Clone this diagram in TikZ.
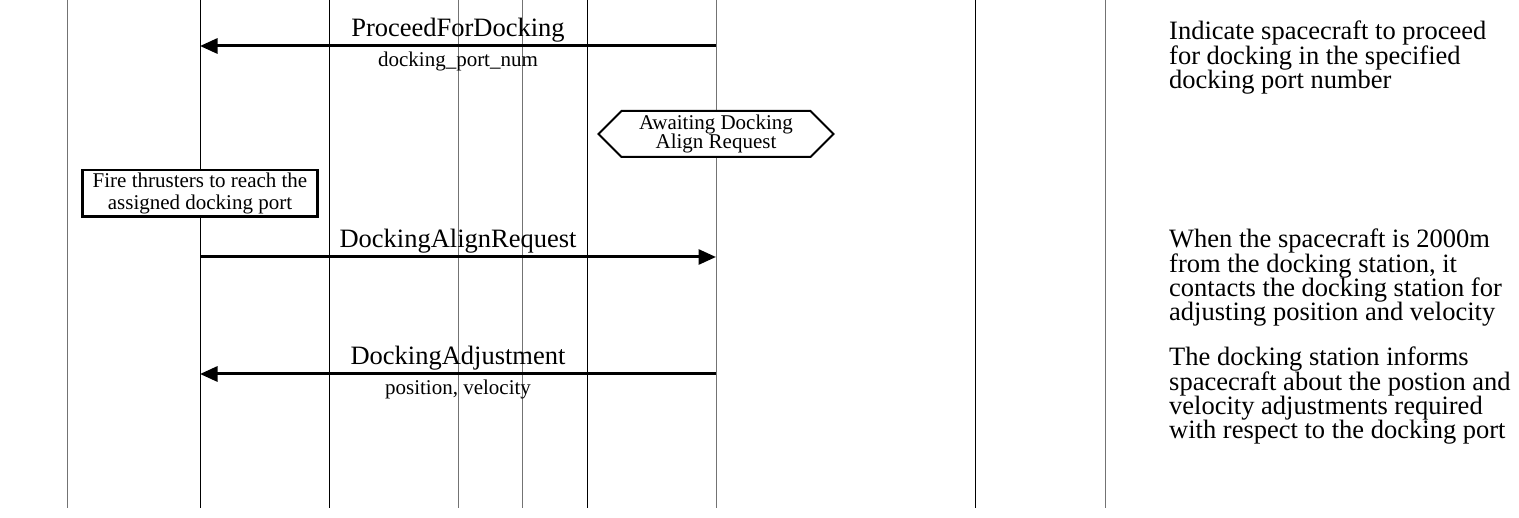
\documentclass[tikz,border=0pt]{standalone}
\usepackage{fontspec}
\setmainfont{Liberation Serif}
\usetikzlibrary{arrows.meta,shapes.symbols}

% tight line spacing: never fall back to \lineskip
\newcommand{\tightlines}{\lineskiplimit=-100pt\relax}

\tikzset{
  lifeline/.style={line width=1pt, black},
  faintline/.style={line width=1pt, black!55},
  msg/.style={line width=3pt, -{Triangle[length=17.5pt,width=15pt]}},
  biglabel/.style={font=\fontsize{26.5}{28}\selectfont, inner sep=0pt, anchor=base},
  smalllabel/.style={font=\fontsize{21}{22}\selectfont, inner sep=0pt, anchor=base},
  note/.style={font=\fontsize{26.5}{24.2}\selectfont\tightlines, inner sep=0pt,
    align=left, anchor=north west},
  actionbox/.style={draw, line width=2.4pt, fill=white, align=center,
    font=\fontsize{21}{21.6}\selectfont\tightlines, inner sep=0pt,
    minimum width=235pt, minimum height=46.5pt},
  statehex/.style={draw, line width=2pt, fill=white, align=center, signal,
    signal to=west and east, signal pointer angle=90,
    font=\fontsize{21}{18.8}\selectfont\tightlines, minimum width=235pt,
    minimum height=46pt, inner sep=0pt}
}

\begin{document}
\begin{tikzpicture}[x=1pt,y=-1pt]
\useasboundingbox (0,0) rectangle (1519,518);

% lifelines
\foreach \n/\x/\s in {a/67/faintline, b/200/lifeline, c/329/lifeline, d/458/faintline,
                      e/522/faintline, f/587/lifeline, g/716/faintline, h/975/lifeline,
                      i/1105/faintline} {
  \coordinate (\n top) at (\x,0);
  \coordinate (\n bot) at (\x,508);
  \draw[\s] (\n top) -- (\n bot);
}

% message end points
\coordinate (m1s) at (716,46);
\coordinate (m1e) at (200,46);
\coordinate (m2s) at (200,257);
\coordinate (m2e) at (716,257);
\coordinate (m3s) at (716,374);
\coordinate (m3e) at (200,374);

% ProceedForDocking
\draw[msg] (m1s) -- (m1e);
\node[biglabel] (m1lab) at (458,37) {ProceedForDocking};
\node[smalllabel] (m1par) at (458,66.5) {docking\_port\_num};

% waiting state
\node[statehex] (wait) at (716,134) {Awaiting Docking\\Align Request};

% local action
\node[actionbox] (fire) at (200,193.3) {Fire thrusters to reach the\\assigned docking port};

% DockingAlignRequest
\draw[msg] (m2s) -- (m2e);
\node[biglabel] (m2lab) at (458,248) {DockingAlignRequest};

% DockingAdjustment
\draw[msg] (m3s) -- (m3e);
\node[biglabel] (m3lab) at (458,365) {DockingAdjustment};
\node[smalllabel] (m3par) at (458,394.5) {position, velocity};

% comments
\node[note] (c1) at (1169,21) {Indicate spacecraft to proceed\\for docking in the specified\\docking port number};
\node[note] (c2) at (1169,229) {When the spacecraft is 2000m\\from the docking station, it\\contacts the docking station for\\adjusting position and velocity};
\node[note] (c3) at (1169,347) {The docking station informs\\spacecraft about the postion and\\velocity adjustments required\\with respect to the docking port};
\end{tikzpicture}
\end{document}
